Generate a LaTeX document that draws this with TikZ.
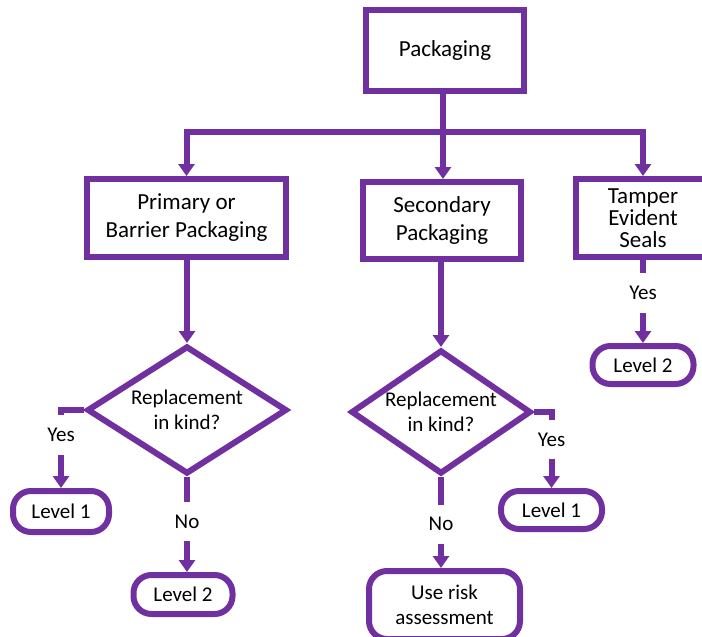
\documentclass[tikz,border=0pt]{standalone}
\usepackage{fontspec}
\setmainfont{Carlito}
\usepackage{xcolor}
\usepackage{tikz}
\usetikzlibrary{shapes.geometric,arrows.meta}
\definecolor{purp}{RGB}{112,48,160}

\begin{document}
\begin{tikzpicture}[
        x = 1pt, y = -1pt,
        line width = 6pt,
        >={Triangle[length=12pt,width=16pt]},
        every node/.style = {draw=purp, text=black, align=center, inner sep=0pt, font=\fontsize{23}{28}\selectfont},
        box/.style = {rectangle, minimum width=#1, minimum height=78pt},
        choice/.style = {diamond, aspect=1.4, minimum width=#1, font=\fontsize{21}{25}\selectfont},
        term/.style = {rectangle, rounded corners=18pt, minimum width=#1, minimum height=39pt, font=\fontsize{21}{25}\selectfont},
        answer/.style = {draw=none, fill=white, text=black, inner xsep=2pt, inner ysep=13pt, font=\fontsize{21}{25}\selectfont},
      ]
      \useasboundingbox (0,0) rectangle (702,637);

      \node[box=158pt, minimum height=81pt] (pack) at (445,50.5) {Packaging};
      \node[box=199pt] (prim) at (186.5,218) {Primary or\\Barrier Packaging};
      \node[box=158pt, minimum height=77pt] (sec) at (442,220.5) {Secondary\\Packaging};
      \node[box=134pt, font=\fontsize{23}{22}\selectfont] (tamp) at (643,218) {Tamper\\Evident\\Seals};

      \node[choice=200pt, minimum height=128pt] (qprim) at (187,410) {Replacement\\in kind?};
      \node[choice=180pt, minimum height=124pt] (qsec) at (441,412) {Replacement\\in kind?};

      \node[term=96pt, minimum height=41pt] (lvlonea) at (61,511.5) {Level 1};
      \node[term=99pt] (lvltwoa) at (183,594.5) {Level 2};
      \node[term=101pt, minimum height=38pt] (lvloneb) at (551.5,510) {Level 1};
      \node[term=151pt, minimum height=68pt] (risk) at (444.5,605) {Use risk\\assessment};
      \node[term=101pt, minimum height=38pt] (lvltwoc) at (643,365) {Level 2};

      \coordinate (split) at (443,132);

      \draw[purp] (pack.south -| split) -- (split);
      \draw[purp,->] (split) -| (prim.north);
      \draw[purp,->] (split) -| (tamp.north);
      \draw[purp,->] (split) -- (split |- sec.north);

      \draw[purp,->] (prim.south -| qprim) -- (qprim.north);
      \draw[purp,->] (sec.south -| qsec) -- (qsec.north);

      \draw[purp,->] (qprim.west) -| node[answer, pos=0.66] {Yes} (lvlonea.north);
      \draw[purp,->] (qprim.south) -- node[answer, pos=0.47] {No} (qprim.south |- lvltwoa.north);
      \draw[purp,->] (qsec.east) -| node[answer, pos=0.68] {Yes} (lvloneb.north);
      \draw[purp,->] (qsec.south) -- node[answer, pos=0.52] {No} (qsec.south |- risk.north);
      \draw[purp,->] (tamp.south) -- node[answer, pos=0.4] {Yes} (lvltwoc.north);

    \end{tikzpicture}
\end{document}
